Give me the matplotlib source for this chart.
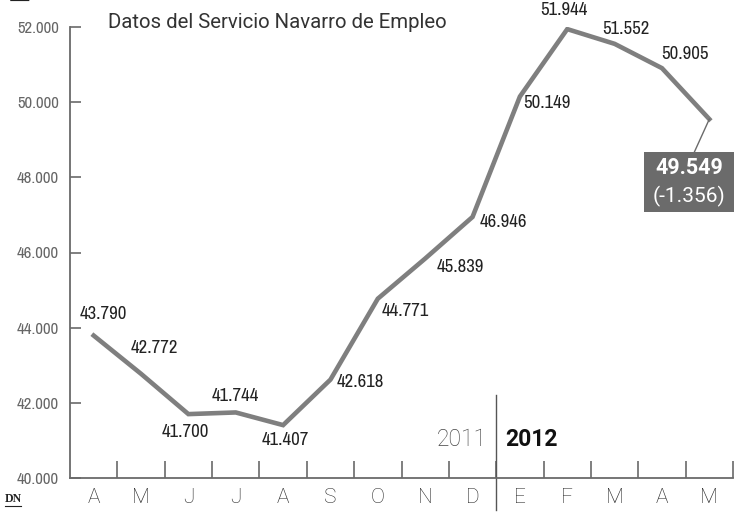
import matplotlib
matplotlib.use("Agg")
import matplotlib.pyplot as plt
from matplotlib import font_manager as fm
from matplotlib.patches import Rectangle

def pick(names):
    for n in names:
        try:
            fm.findfont(fm.FontProperties(family=n), fallback_to_default=False)
            return n
        except Exception:
            pass
    return "DejaVu Sans"

def pick_condensed():
    for f in fm.fontManager.ttflist:
        nm = f.name.lower()
        if "narrow" in nm or "condensed" in nm:
            return f.name, "normal"
    for f in fm.fontManager.ttflist:
        if str(f.stretch) in ("condensed", "semi-condensed", "extra-condensed"):
            return f.name, f.stretch
    return pick(["Roboto", "Lato"]), "normal"

NARROW, NSTRETCH = pick_condensed()
LIGHT = pick(["Roboto", "Lato", "Open Sans"])
SERIF = pick(["Liberation Serif", "DejaVu Serif"])

months = ["A", "M", "J", "J", "A", "S", "O", "N", "D", "E", "F", "M", "A", "M"]
values = [43790, 42772, 41700, 41744, 41407, 42618, 44771, 45839, 46946,
          50149, 51944, 51552, 50905, 49549]
labels = ["43.790", "42.772", "41.700", "41.744", "41.407", "42.618", "44.771",
          "45.839", "46.946", "50.149", "51.944", "51.552", "50.905"]
last_value = "49.549"
last_change = "(-1.356)"
yticks = [40000, 42000, 44000, 46000, 48000, 50000, 52000]
ytick_labels = ["40.000", "42.000", "44.000", "46.000", "48.000", "50.000", "52.000"]
title = "Datos del Servicio Navarro de Empleo"
year_a, year_b = "2011", "2012"

# label offsets in pixels (dx right, dy up) relative to each point
offsets = [(10, 22), (13, 26), (-3, -18), (0, 16), (2, -15), (30, -2), (27, -12),
           (35, -8), (31, -5), (27, -6), (-3, 19), (11, 15), (23, 14)]

W, H = 749, 513
fig = plt.figure(figsize=(W / 100, H / 100), dpi=100)
ax = fig.add_axes([70 / W, 1 - 478 / H, (733 - 70) / W, (478 - 27) / H])
x = list(range(len(months)))
ax.plot(x, values, color="#7f7f7f", lw=3.3, solid_joinstyle="miter", zorder=3)
ax.set_xlim(-0.5, len(months) - 0.5)
ax.set_ylim(40000, 52000)

for s in ["top", "right"]:
    ax.spines[s].set_visible(False)
for s in ["left", "bottom"]:
    ax.spines[s].set_color("#6a6a6a")
    ax.spines[s].set_linewidth(1.3)

ax.set_yticks(yticks)
ax.set_yticklabels(ytick_labels, fontfamily=NARROW, fontstretch=NSTRETCH,
                   fontsize=12, color="#666666")
ax.tick_params(axis="y", direction="in", length=8, width=1.2, color="#6a6a6a", pad=8)

ax.set_xticks(x)
ax.set_xticklabels(months, fontfamily=LIGHT, fontsize=15, color="#2a2a2a", fontweight="light")
ax.tick_params(axis="x", length=0, pad=7)
ax.set_xticks([i + 0.5 for i in range(len(months))], minor=True)
ax.tick_params(axis="x", which="minor", direction="in", length=12, width=1.2, color="#6a6a6a")

for i, lab in enumerate(labels):
    dx, dy = offsets[i]
    ax.annotate(lab, (x[i], values[i]), xytext=(dx, dy), textcoords="offset pixels",
                ha="center", va="center", fontfamily=NARROW, fontstretch=NSTRETCH,
                fontsize=13.5, color="#222222")

# last value box (pixel geometry relative to the last point)
fig.canvas.draw()
px, py = ax.transData.transform((x[-1], values[-1]))
bx0, by0, bw, bh = px - 65, py - 93, 90, 60   # display pixels, origin bottom-left
fig.add_artist(Rectangle((bx0 / W, by0 / H), bw / W, bh / H, transform=fig.transFigure,
                         fc="#6b6b6b", ec="none", zorder=5))
fig.add_artist(plt.Line2D([px / W, (px - 15) / W], [py / H, (by0 + bh) / H],
                          color="#6b6b6b", lw=1, zorder=5))
cx = bx0 + bw / 2
fig.text(cx / W, (by0 + 44) / H, last_value, ha="center", va="center", fontfamily=LIGHT,
         fontsize=15.5, fontweight="bold", color="white", zorder=6)
fig.text(cx / W, (by0 + 16) / H, last_change, ha="center", va="center", fontfamily=LIGHT,
         fontsize=15, color="white", zorder=6)

# year divider
ax.plot([8.5, 8.5], [42200, 39150], color="#555555", lw=1, clip_on=False)
ax.text(8.3, 41020, year_a, ha="right", va="center", fontfamily=LIGHT,
        fontsize=16.5, color="#444444", fontweight="light")
ax.text(8.7, 41020, year_b, ha="left", va="center", fontfamily=LIGHT,
        fontsize=16.5, color="#111111", fontweight="bold")

fig.text(108 / W, 1 - 22 / H, title, ha="left", va="center", fontfamily=LIGHT,
         fontsize=14.7, color="#333333")
fig.text(8 / W, 1 - (-9) / H, "■ Por meses", ha="left", va="center",
         fontfamily=[LIGHT, "DejaVu Sans"], fontsize=18, color="#222222", fontweight="bold")
fig.text(5 / W, 1 - 499 / H, "DN", ha="left", va="center", fontfamily=SERIF,
         fontsize=8.5, fontweight="bold", color="#222222")
fig.add_artist(plt.Line2D([5 / W, 21 / W], [1 - 506 / H, 1 - 506 / H], color="#222222", lw=0.8))

fig.savefig("out.png", dpi=100)
